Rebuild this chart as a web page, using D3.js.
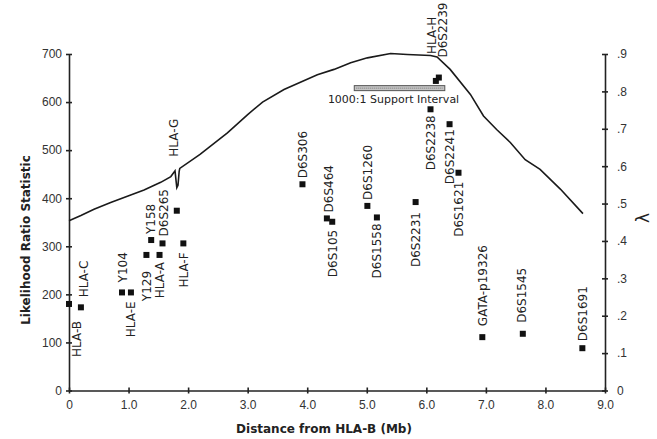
<!DOCTYPE html>
<html>
<head>
<meta charset="utf-8">
<script src="https://cdn.jsdelivr.net/npm/d3@7"></script>
<style>
  body { margin: 0; background: #fff; }
  svg { font-family: "DejaVu Sans", sans-serif; }
  .tick text { fill: #333; font-size: 12px; }
  .axis path, .axis line { stroke: #222; stroke-width: 1.6; }
</style>
</head>
<body>
<svg id="chart"></svg>
<script>
// Marker names, positions (Mb from HLA-B) and likelihood ratio statistic
const markers = ["HLA-B", "HLA-C", "Y104", "HLA-E", "Y129", "Y158", "HLA-A", "D6S265", "HLA-G", "HLA-F",
  "D6S306", "D6S464", "D6S105", "D6S1260", "D6S1558", "D6S2231", "D6S2238", "HLA-H", "D6S2239",
  "D6S2241", "D6S1621", "GATA-p19326", "D6S1545", "D6S1691"];
const markerPos = [0.0, 0.20, 0.89, 1.04, 1.30, 1.38, 1.52, 1.57, 1.81, 1.92,
  3.92, 4.33, 4.42, 5.01, 5.17, 5.82, 6.07, 6.16, 6.21,
  6.39, 6.54, 6.94, 7.62, 8.62];
const markerLRS = [180, 173, 204, 204, 282, 313, 282, 306, 374, 306,
  429, 358, 351, 384, 360, 392, 585, 644, 651,
  554, 453, 111, 118, 88];

// label placement: [dx, dy, above?] in pixels from the square
const labelOffsets = [[8, 17, 0], [3, -10, 1], [1, -10, 1], [0, 9, 0], [0, 16, 0], [-1, -6, 1], [0, 7, 0], [1, -7, 1], [-3, -54, 1], [0, 9, 0],
  [0, -6, 1], [2, -6, 1], [0, 8, 0], [0, -6, 1], [0, 6, 0], [0, 10, 0], [0, 6, 0], [-4, -27, 1], [4, -20, 1],
  [0, 5, 0], [0, 9, 0], [0, -11, 1], [-1, -11, 1], [0, -7, 1]];

const curveX = [0.00, 0.20, 0.42, 0.70, 0.98, 1.26, 1.54, 1.71, 1.78, 1.81, 1.83, 1.85, 1.86, 2.20, 2.66, 3.00, 3.25,
  3.61, 4.17, 4.45, 4.73, 5.01, 5.40, 5.68, 6.07, 6.18, 6.40, 6.74, 6.96, 7.18, 7.41, 7.66, 7.91, 8.25, 8.63];
const curveLRS = [353, 364, 377, 391, 404, 417, 433, 445, 457, 422, 427, 456, 462, 491, 536, 574, 600,
  626, 657, 668, 682, 692, 701, 699, 697, 694, 668, 616, 571, 543, 516, 480, 460, 419, 368];

// 1000:1 support interval
const supportInterval = [4.79, 6.31];
const supportLRS = 629;

const xTicks = [0, 1, 2, 3, 4, 5, 6, 7, 8, 9];
const yTicks = [0, 100, 200, 300, 400, 500, 600, 700];
const lambdaTicks = [0, .1, .2, .3, .4, .5, .6, .7, .8, .9];

const width = 657;
const height = 439;

const svg = d3.select("#chart")
  .attr("width", width)
  .attr("height", height);

const x = d3.scaleLinear().domain([0, 9]).range([69, 605]);
const y = d3.scaleLinear().domain([0, 700]).range([390.5, 54]);
const yLambda = d3.scaleLinear().domain([0, 0.9]).range([390.5, 54]);

// Axes
const xAxis = svg.append("g")
  .attr("class", "axis")
  .attr("transform", `translate(0,${y(0)})`)
  .call(d3.axisBottom(x).tickValues(xTicks).tickSize(3).tickSizeOuter(0).tickPadding(7)
    .tickFormat(d => d === 0 ? "0" : d3.format(".1f")(d)));
xAxis.selectAll(".tick line").attr("y1", -3);

const yAxis = svg.append("g")
  .attr("class", "axis")
  .attr("transform", `translate(${x(0)},0)`)
  .call(d3.axisLeft(y).tickValues(yTicks).tickSize(3).tickSizeOuter(0).tickPadding(4));
yAxis.selectAll(".tick line").attr("x1", 3);

const rAxis = svg.append("g")
  .attr("class", "axis")
  .attr("transform", `translate(${x(9)},0)`)
  .call(d3.axisRight(yLambda).tickValues(lambdaTicks).tickSize(3).tickSizeOuter(0).tickPadding(9)
    .tickFormat(d => d === 0 ? "0" : d3.format(".1f")(d).replace(/^0/, "")));
rAxis.selectAll(".tick line").attr("x1", -3);

// Axis titles
svg.append("text")
  .attr("x", 324)
  .attr("y", 433)
  .attr("text-anchor", "middle")
  .style("font-weight", "bold")
  .style("font-size", "12px")
  .style("fill", "#222")
  .text("Distance from HLA-B (Mb)");

svg.append("text")
  .attr("transform", "translate(30,240) rotate(-90)")
  .attr("text-anchor", "middle")
  .style("font-weight", "bold")
  .style("font-size", "12px")
  .style("fill", "#222")
  .text("Likelihood Ratio Statistic");

svg.append("text")
  .attr("transform", "translate(649,218) rotate(-90)")
  .attr("text-anchor", "middle")
  .style("font-size", "17px")
  .style("fill", "#222")
  .text("λ");

// Curve
const line = d3.line()
  .x((d, i) => x(curveX[i]))
  .y(d => y(d));

svg.append("path")
  .datum(curveLRS)
  .attr("d", line)
  .attr("fill", "none")
  .attr("stroke", "#1a1a1a")
  .attr("stroke-width", 1.6);

// Support interval bar
svg.append("rect")
  .attr("x", x(supportInterval[0]))
  .attr("y", y(supportLRS) - 2.5)
  .attr("width", x(supportInterval[1]) - x(supportInterval[0]))
  .attr("height", 5)
  .attr("fill", "#c4c4c4")
  .attr("stroke", "#555")
  .attr("stroke-width", 1);

svg.append("line")
  .attr("x1", x(supportInterval[0]) + 2)
  .attr("x2", x(supportInterval[1]) - 2)
  .attr("y1", y(supportLRS))
  .attr("y2", y(supportLRS))
  .attr("stroke", "#777")
  .attr("stroke-width", 1)
  .attr("stroke-dasharray", "1,1");

svg.append("text")
  .attr("x", (x(supportInterval[0]) + x(supportInterval[1])) / 2 - 6)
  .attr("y", y(supportLRS) + 15)
  .attr("text-anchor", "middle")
  .style("font-size", "11px")
  .style("fill", "#222")
  .text("1000:1 Support Interval");

// Marker squares
svg.selectAll(".marker")
  .data(markers)
  .enter()
  .append("rect")
  .attr("class", "marker")
  .attr("x", (d, i) => x(markerPos[i]) - 3)
  .attr("y", (d, i) => y(markerLRS[i]) - 3)
  .attr("width", 6)
  .attr("height", 6)
  .attr("fill", "#111");

// Marker labels (rotated)
svg.selectAll(".marker-label")
  .data(markers)
  .enter()
  .append("text")
  .attr("class", "marker-label")
  .attr("transform", (d, i) => {
    const o = labelOffsets[i];
    return `translate(${x(markerPos[i]) + o[0]},${y(markerLRS[i]) + o[1]}) rotate(-90)`;
  })
  .attr("text-anchor", (d, i) => labelOffsets[i][2] ? "start" : "end")
  .attr("dy", "0.36em")
  .style("font-size", "12px")
  .style("fill", "#222")
  .text(d => d);
</script>
</body>
</html>
